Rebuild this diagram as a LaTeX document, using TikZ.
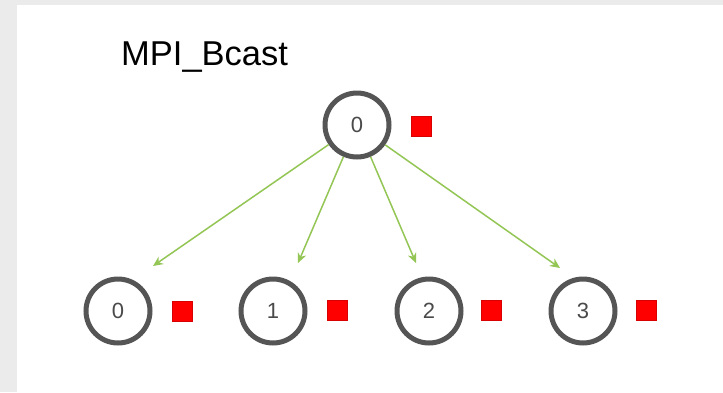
\documentclass[tikz,border=0pt]{standalone}
\usepackage{fontspec}
\setmainfont{Liberation Sans}
\usetikzlibrary{arrows.meta}
\definecolor{frame}{HTML}{EBEBEB}
\definecolor{ring}{HTML}{555555}
\definecolor{digit}{HTML}{4A4A4A}
\definecolor{arrowgreen}{HTML}{94C656}
\definecolor{sq}{HTML}{FF0000}
\begin{document}
\begin{tikzpicture}[x=1pt,y=-1pt,
  proc/.style={circle,draw=ring,line width=5pt,minimum size=64pt,inner sep=0pt,text=digit,font=\fontsize{22}{26}\selectfont},
  databox/.style={rectangle,fill=sq,draw=sq!85!black,line width=0.5pt,minimum size=20pt,inner sep=0pt},
  bcast/.style={draw=arrowgreen,line width=1.5pt,-{Stealth[length=10pt,width=9pt]}}]
\fill[frame] (0,0) rectangle (723,392);
\fill[white] (17,5) rectangle (723,392);
\useasboundingbox (0,0) rectangle (723,392);
\node[anchor=base west,inner sep=0pt,font=\fontsize{34.5}{40}\selectfont] (title) at (121,65) {MPI\_Bcast};
\node[proc] (root) at (357,125) {0};
\node[databox] (rootdata) at (421,126) {};
\node[proc] (p0) at (118,311) {0};
\node[proc] (p1) at (273,311) {1};
\node[proc] (p2) at (429,311) {2};
\node[proc] (p3) at (583,311) {3};
\node[databox] (d0) at (182,311) {};
\node[databox] (d1) at (337,310) {};
\node[databox] (d2) at (491,310) {};
\node[databox] (d3) at (646,310) {};
\coordinate (t0) at (153,266);
\coordinate (t1) at (298,263);
\coordinate (t2) at (416,263);
\coordinate (t3) at (560,268);
\draw[bcast] (root) -- (t0);
\draw[bcast] (root) -- (t1);
\draw[bcast] (root) -- (t2);
\draw[bcast] (root) -- (t3);
\end{tikzpicture}
\end{document}
